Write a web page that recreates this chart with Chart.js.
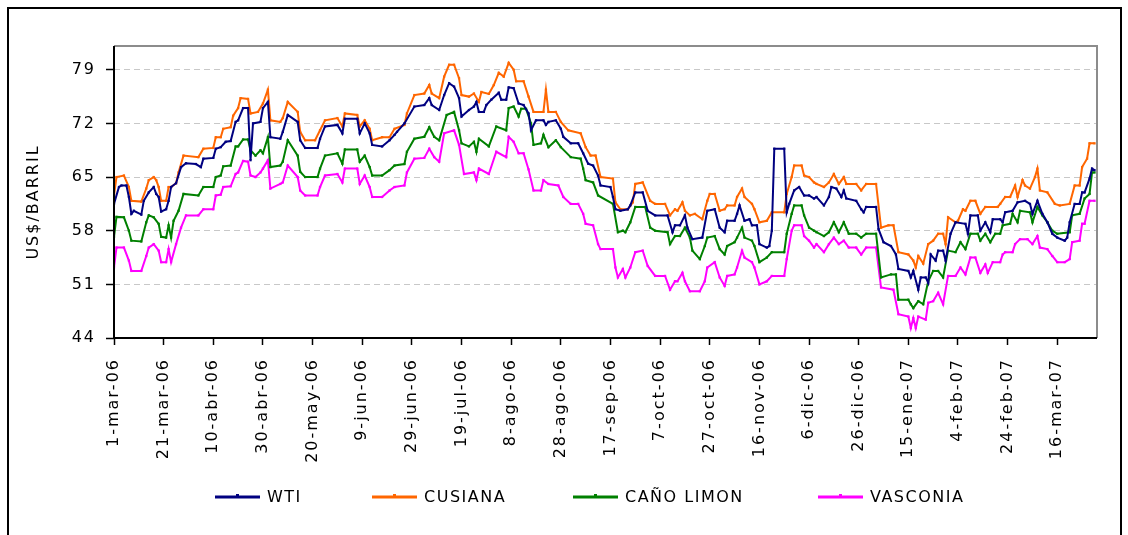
<!DOCTYPE html>
<html>
<head>
<meta charset="utf-8">
<script src="https://cdn.jsdelivr.net/npm/chart.js@4.4.1/dist/chart.umd.min.js"></script>
<style>
  html, body { margin: 0; padding: 0; background: #fff; }
</style>
</head>
<body>
<canvas id="precios" width="1128" height="535"></canvas>
<script>
// dias contados desde el 1-mar-06
const xTickDays = [0, 20, 40, 60, 80, 100, 120, 140, 160, 180, 200, 220, 240, 260, 280, 300, 320, 340, 360, 380];
const xTickLabels = ["1-mar-06", "21-mar-06", "10-abr-06", "30-abr-06", "20-may-06", "9-jun-06", "29-jun-06",
  "19-jul-06", "8-ago-06", "28-ago-06", "17-sep-06", "7-oct-06", "27-oct-06", "16-nov-06", "6-dic-06",
  "26-dic-06", "15-ene-07", "4-feb-07", "24-feb-07", "16-mar-07"];
const yTicks = [44, 51, 58, 65, 72, 79];
const seriesNames = ["WTI", "CUSIANA", "CAÑO LIMON", "VASCONIA"];

// [dia, US$/barril]
const wti = [[0,61.5],[2,63.7],[3,63.9],[5,63.9],[6,62.4],[7,60.2],[8,60.6],[11,60.1],[12,61.9],[14,63.0],[16,63.7],[17,62.8],[18,62.4],[19,60.5],[21,60.8],[22,61.9],[23,63.7],[25,64.2],[27,66.3],[29,66.8],[33,66.7],[35,66.3],[36,67.4],[40,67.5],[41,68.7],[43,68.9],[45,69.6],[47,69.7],[49,72.2],[50,72.4],[52,74.0],[54,74.0],[55,67.2],[56,72.0],[59,72.2],[60,74.0],[62,74.8],[63,70.2],[67,70.0],[68,70.9],[70,73.1],[74,72.2],[75,69.8],[77,68.8],[82,68.8],[83,70.0],[85,71.6],[90,71.8],[92,70.7],[93,72.6],[98,72.6],[99,70.7],[101,72.0],[103,70.7],[104,69.2],[108,69.0],[111,69.8],[113,70.5],[114,70.9],[117,72.0],[121,74.2],[125,74.4],[127,75.3],[128,74.4],[131,73.75],[133,75.7],[135,77.25],[137,76.8],[139,75.3],[140,72.9],[143,73.75],[145,74.2],[146,74.8],[147,73.5],[149,73.5],[150,74.4],[152,75.1],[155,76.0],[156,75.1],[158,75.1],[159,76.7],[161,76.6],[163,74.6],[165,74.4],[167,73.3],[168,71.1],[170,72.4],[173,72.4],[174,71.8],[175,72.2],[178,72.4],[180,71.3],[181,70.25],[184,69.4],[187,69.4],[189,68.1],[191,66.75],[193,66.5],[195,65.2],[196,63.9],[200,63.7],[201,62.4],[202,60.8],[204,60.6],[207,60.8],[208,61.3],[210,63.0],[213,63.0],[215,60.6],[218,60.0],[223,60.0],[225,57.8],[226,58.7],[228,58.7],[230,60.0],[231,58.4],[233,56.9],[237,57.1],[239,60.6],[242,60.8],[244,58.4],[246,57.8],[247,59.3],[250,59.3],[251,60.2],[252,61.3],[254,59.3],[256,59.5],[257,58.7],[259,58.7],[260,56.25],[263,55.8],[264,56.0],[265,58.0],[266,68.7],[270,68.7],[271,60.4],[272,61.5],[274,63.25],[276,63.7],[278,62.6],[280,62.6],[282,62.2],[283,62.4],[286,61.3],[288,62.4],[289,63.7],[291,63.5],[293,62.4],[294,63.25],[295,62.2],[299,61.9],[301,60.8],[302,60.4],[303,61.1],[307,61.1],[308,58.2],[310,56.5],[313,56.0],[315,54.9],[316,53.0],[320,52.75],[321,51.9],[322,52.75],[324,50.3],[325,51.9],[327,51.9],[328,51.2],[329,54.9],[331,54.1],[332,55.4],[334,55.4],[335,54.1],[337,57.6],[339,59.1],[343,58.9],[344,57.6],[345,60.0],[348,60.0],[349,58.0],[351,59.1],[353,57.8],[354,59.5],[357,59.5],[358,59.1],[359,60.4],[362,60.6],[364,61.7],[367,61.9],[369,61.5],[370,60.2],[372,61.9],[374,60.2],[376,59.1],[378,57.6],[380,57.1],[383,56.7],[384,57.1],[385,59.1],[387,61.5],[389,61.5],[390,63.0],[391,63.0],[393,64.8],[394,66.1],[395,65.9]];

const cusiana = [[0,62.6],[1,65.0],[4,65.2],[6,63.7],[7,61.9],[11,61.8],[13,63.5],[14,64.6],[16,65.0],[17,64.6],[18,63.7],[19,61.9],[21,61.9],[22,63.7],[23,63.7],[25,64.2],[26,65.6],[28,67.8],[34,67.6],[36,68.7],[40,68.8],[41,70.2],[43,70.2],[44,71.3],[47,71.5],[48,73.0],[50,74.0],[51,75.3],[54,75.2],[55,73.3],[58,73.5],[60,74.6],[62,76.4],[63,72.4],[67,72.2],[68,72.7],[70,74.8],[74,73.5],[75,70.9],[77,69.8],[81,69.8],[83,71.1],[85,72.4],[90,72.7],[92,71.6],[93,73.3],[98,73.1],[99,71.6],[101,72.4],[103,71.3],[104,69.8],[108,70.2],[111,70.2],[113,71.3],[117,71.8],[118,73.3],[121,75.7],[125,75.9],[127,77.0],[128,75.9],[131,75.3],[133,78.1],[135,79.65],[137,79.65],[139,77.9],[140,75.7],[143,75.5],[145,75.9],[147,74.8],[148,76.1],[151,75.85],[153,77.0],[155,78.6],[157,78.1],[159,79.9],[161,79.0],[162,77.5],[165,77.5],[167,75.5],[169,73.5],[173,73.5],[174,76.4],[175,73.5],[178,73.5],[180,72.2],[183,71.1],[188,70.7],[190,68.9],[192,67.8],[194,67.8],[196,65.0],[201,64.8],[202,61.7],[204,60.8],[207,60.8],[209,61.7],[210,64.1],[213,64.3],[216,61.9],[218,61.5],[222,61.5],[224,60.0],[226,60.8],[227,60.6],[229,61.7],[230,60.6],[232,60.0],[234,60.2],[237,59.5],[239,61.9],[240,62.8],[242,62.8],[244,60.6],[246,60.8],[247,61.3],[250,61.3],[251,62.4],[253,63.5],[254,62.4],[257,61.5],[258,60.8],[260,59.1],[263,59.3],[265,60.4],[270,60.4],[271,62.8],[273,65.0],[274,66.5],[277,66.5],[278,65.2],[280,65.0],[282,64.3],[283,64.1],[286,63.7],[288,64.3],[290,65.4],[292,64.1],[294,65.0],[295,64.1],[299,64.1],[301,63.25],[303,64.1],[307,64.1],[309,58.4],[312,58.7],[314,58.7],[316,55.2],[320,54.9],[322,54.1],[323,53.2],[324,54.7],[326,53.7],[328,56.25],[330,56.7],[332,57.6],[334,57.6],[335,56.25],[336,59.75],[339,59.1],[340,59.3],[342,60.8],[343,60.6],[345,61.9],[347,61.9],[349,60.2],[351,61.1],[356,61.1],[357,61.5],[359,62.4],[361,62.4],[363,63.9],[364,62.4],[366,64.6],[367,63.9],[369,63.5],[371,65.0],[372,66.1],[373,63.25],[376,63.0],[379,61.5],[381,61.3],[385,61.5],[387,63.9],[389,63.9],[390,66.3],[392,67.4],[393,69.4],[395,69.4]];

const canoLimon = [[0,57.2],[1,59.8],[4,59.75],[6,58.0],[7,56.7],[11,56.6],[13,59.1],[14,60.0],[16,59.75],[18,58.9],[19,57.2],[21,57.1],[22,58.7],[23,57.1],[24,59.3],[26,60.6],[28,62.8],[34,62.6],[36,63.7],[40,63.7],[41,65.0],[43,65.2],[44,66.4],[47,66.5],[49,69.0],[50,69.0],[52,69.9],[54,69.9],[55,68.5],[57,67.8],[59,68.5],[60,68.1],[62,70.2],[63,66.3],[67,66.5],[68,67.0],[70,69.8],[74,67.8],[75,65.7],[77,65.0],[82,65.0],[83,66.1],[85,67.8],[90,68.1],[92,66.75],[93,68.6],[98,68.6],[99,67.0],[101,67.8],[103,66.3],[104,65.2],[108,65.2],[111,65.9],[113,66.5],[117,66.7],[118,68.3],[121,70.0],[125,70.25],[127,71.5],[129,70.25],[131,69.8],[134,73.1],[137,73.5],[139,71.1],[140,69.4],[143,69.0],[145,69.6],[146,68.3],[147,70.0],[151,69.0],[154,71.6],[158,71.1],[159,74.0],[161,74.2],[163,72.9],[164,73.9],[166,73.9],[168,72.0],[169,69.2],[172,69.4],[173,70.5],[175,68.9],[178,69.8],[180,68.9],[184,67.6],[188,67.4],[189,66.1],[190,64.6],[193,64.3],[195,62.6],[201,61.5],[203,57.8],[205,58.0],[206,57.8],[208,59.1],[210,61.1],[214,61.1],[216,58.4],[218,58.0],[223,57.8],[224,56.25],[226,57.3],[228,57.3],[230,58.4],[232,57.1],[233,55.4],[236,54.3],[238,56.0],[239,57.1],[242,57.3],[244,55.6],[246,54.9],[247,56.0],[250,56.5],[251,57.1],[253,58.4],[254,57.1],[257,56.7],[258,56.0],[260,53.9],[263,54.5],[265,55.2],[270,55.2],[271,57.6],[273,60.2],[274,61.3],[277,61.3],[278,60.0],[280,58.4],[282,58.0],[283,57.8],[286,57.3],[288,57.8],[290,59.1],[292,57.8],[294,59.1],[296,57.6],[299,57.6],[301,57.1],[303,57.6],[307,57.6],[309,51.9],[313,52.3],[315,52.3],[316,49.0],[320,49.0],[321,48.4],[322,47.9],[324,48.8],[326,48.4],[328,51.4],[330,52.75],[332,52.75],[334,51.9],[336,55.4],[339,55.2],[341,56.5],[343,55.6],[345,57.6],[348,57.6],[349,56.7],[351,57.6],[353,56.5],[355,57.6],[357,57.6],[358,58.7],[361,58.9],[362,60.2],[364,59.1],[365,60.6],[369,60.4],[370,59.1],[372,61.1],[374,60.0],[376,59.1],[378,58.0],[380,57.6],[385,57.8],[386,60.0],[389,60.2],[391,62.2],[393,62.8],[394,65.6],[395,65.6]];

const vasconia = [[0,53.2],[1,55.8],[4,55.8],[6,54.1],[7,52.75],[11,52.75],[13,54.7],[14,55.8],[16,56.25],[18,55.4],[19,53.9],[21,53.9],[22,55.6],[23,53.9],[25,56.25],[27,58.4],[29,60.0],[34,60.0],[36,60.8],[40,60.8],[41,62.6],[43,62.7],[44,63.7],[47,63.8],[49,65.4],[50,65.6],[52,67.1],[54,67.0],[55,65.2],[57,65.0],[59,65.6],[60,66.1],[62,67.2],[63,63.5],[67,64.1],[68,64.3],[70,66.5],[74,65.0],[75,63.25],[77,62.6],[82,62.6],[83,63.7],[85,65.2],[90,65.4],[92,64.3],[93,66.1],[98,66.1],[99,64.1],[101,65.2],[103,63.7],[104,62.4],[108,62.4],[111,63.25],[113,63.7],[117,63.9],[118,65.6],[121,67.4],[125,67.5],[127,68.7],[129,67.6],[131,67.0],[133,70.7],[137,71.1],[139,69.2],[141,65.4],[145,65.6],[146,64.6],[147,66.1],[151,65.4],[154,68.3],[158,67.6],[159,70.25],[161,69.6],[163,68.1],[165,68.1],[167,66.0],[169,63.25],[172,63.25],[173,64.6],[175,64.1],[179,63.9],[181,62.4],[184,61.5],[187,61.5],[189,60.2],[190,58.9],[193,58.7],[195,56.25],[196,55.6],[201,55.6],[202,53.2],[203,51.9],[205,53.0],[206,51.9],[208,53.2],[210,55.2],[213,55.4],[215,53.4],[218,52.1],[222,52.1],[224,50.3],[226,51.4],[227,51.4],[229,52.5],[230,51.4],[232,50.1],[236,50.1],[238,51.4],[239,53.2],[242,53.9],[244,51.9],[246,50.8],[247,52.1],[250,52.3],[251,53.2],[253,55.4],[254,54.5],[257,53.9],[258,53.2],[260,51.0],[263,51.4],[265,52.1],[270,52.1],[271,54.3],[273,58.0],[274,58.7],[277,58.7],[278,57.3],[280,56.7],[282,55.8],[283,56.25],[286,55.2],[288,56.25],[290,57.1],[292,56.25],[294,56.7],[296,55.8],[299,55.8],[301,54.9],[303,55.8],[307,55.8],[309,50.6],[314,50.3],[316,47.1],[320,46.8],[321,45.3],[322,46.6],[323,45.3],[324,46.8],[327,46.4],[328,48.6],[330,48.8],[332,49.9],[334,48.4],[336,52.1],[339,52.1],[341,53.2],[343,52.3],[345,54.5],[347,54.5],[349,52.5],[351,53.6],[352,52.5],[354,53.9],[357,53.9],[358,54.9],[359,55.2],[362,55.2],[363,56.25],[365,56.9],[368,56.9],[370,56.25],[372,57.3],[373,55.8],[376,55.6],[378,54.7],[380,53.9],[383,53.9],[385,54.3],[386,56.5],[389,56.7],[390,58.9],[391,58.9],[393,61.9],[395,61.9]];

const colores = ["#000080", "#ff6600", "#008000", "#ff00ff"];
const FONT = "DejaVu Sans";

function serie(nombre, puntos, color) {
    return {
        label: nombre,
        data: puntos.map(p => ({ x: p[0], y: p[1] })),
        borderColor: color,
        backgroundColor: color,
        borderWidth: 2,
        pointStyle: "rect",
        pointRadius: 1.6,
        pointBorderWidth: 0,
        tension: 0,
    };
}

// espaciado de letras como en el grafico original
const espaciado = {
    id: "espaciado",
    beforeUpdate(chart) { chart.ctx.letterSpacing = "2px"; },
    beforeDraw(chart) { chart.ctx.letterSpacing = "2px"; },
};

const marco = {
    id: "marco",
    beforeDraw(chart) {
        const ctx = chart.ctx;
        ctx.save();
        ctx.strokeStyle = "#000";
        ctx.lineWidth = 2;
        ctx.strokeRect(8, 8, 1113, 540);
        ctx.restore();
    },
    afterDraw(chart) {
        const ctx = chart.ctx;
        const a = chart.chartArea;
        ctx.save();
        // borde del area de trazado
        ctx.lineWidth = 2;
        ctx.strokeStyle = "#8c8c8c";
        ctx.beginPath();
        ctx.moveTo(a.left, a.top);
        ctx.lineTo(a.right, a.top);
        ctx.lineTo(a.right, a.bottom);
        ctx.stroke();
        ctx.strokeStyle = "#000";
        ctx.beginPath();
        ctx.moveTo(a.left, a.top);
        ctx.lineTo(a.left, a.bottom);
        ctx.lineTo(a.right, a.bottom);
        ctx.stroke();

        // titulo del eje y
        ctx.fillStyle = "#000";
        ctx.font = "16px '" + FONT + "'";
        ctx.letterSpacing = "2px";
        ctx.translate(34, 203);
        ctx.rotate(-Math.PI / 2);
        ctx.textAlign = "center";
        ctx.textBaseline = "middle";
        ctx.fillText("US$/BARRIL", 1, 0);
        ctx.restore();

        // leyenda
        ctx.save();
        ctx.font = "16px '" + FONT + "'";
        ctx.letterSpacing = "1.5px";
        ctx.textBaseline = "middle";
        const legendX = [215, 372, 573, 818];
        const y = 497;
        seriesNames.forEach((nombre, i) => {
            const x = legendX[i];
            ctx.strokeStyle = colores[i];
            ctx.lineWidth = 3;
            ctx.beginPath();
            ctx.moveTo(x, y);
            ctx.lineTo(x + 45, y);
            ctx.stroke();
            ctx.fillStyle = colores[i];
            ctx.fillRect(x + 21, y - 3, 3, 3);
            ctx.fillStyle = "#000";
            ctx.fillText(nombre, x + 52, y + 1);
        });
        ctx.restore();
    },
};

const ctx = document.getElementById("precios");

new Chart(ctx, {
    type: "line",
    data: {
        datasets: [
            serie(seriesNames[0], wti, colores[0]),
            serie(seriesNames[1], cusiana, colores[1]),
            serie(seriesNames[2], canoLimon, colores[2]),
            serie(seriesNames[3], vasconia, colores[3]),
        ],
    },
    options: {
        responsive: false,
        animation: false,
        layout: {
            padding: { left: 20, right: 31, top: 46, bottom: 47 },
        },
        scales: {
            x: {
                type: "linear",
                min: 0,
                max: 396,
                afterBuildTicks: s => { s.ticks = xTickDays.map(v => ({ value: v })); },
                afterFit: s => { s.height = 150; },
                grid: {
                    drawOnChartArea: false,
                    tickLength: 7,
                    tickColor: "#000",
                    tickWidth: 1.5,
                },
                border: { display: false },
                ticks: {
                    autoSkip: false,
                    minRotation: 90,
                    maxRotation: 90,
                    padding: 13,
                    color: "#000",
                    font: { family: FONT, size: 16 },
                    callback: v => xTickLabels[xTickDays.indexOf(v)],
                },
            },
            y: {
                min: 44,
                max: 82.1,
                afterBuildTicks: s => { s.ticks = yTicks.map(v => ({ value: v })); },
                afterFit: s => { s.width = 94; },
                grid: {
                    color: "#c8c8c8",
                    lineWidth: 1,
                    tickColor: "#000",
                    tickLength: 8,
                    tickWidth: 1.5,
                },
                border: { display: false, dash: [6, 4] },
                ticks: {
                    color: "#000",
                    padding: 10,
                    font: { family: FONT, size: 16 },
                },
            },
        },
        plugins: {
            legend: { display: false },
            tooltip: { enabled: false },
        },
    },
    plugins: [espaciado, marco],
});
</script>
</body>
</html>
